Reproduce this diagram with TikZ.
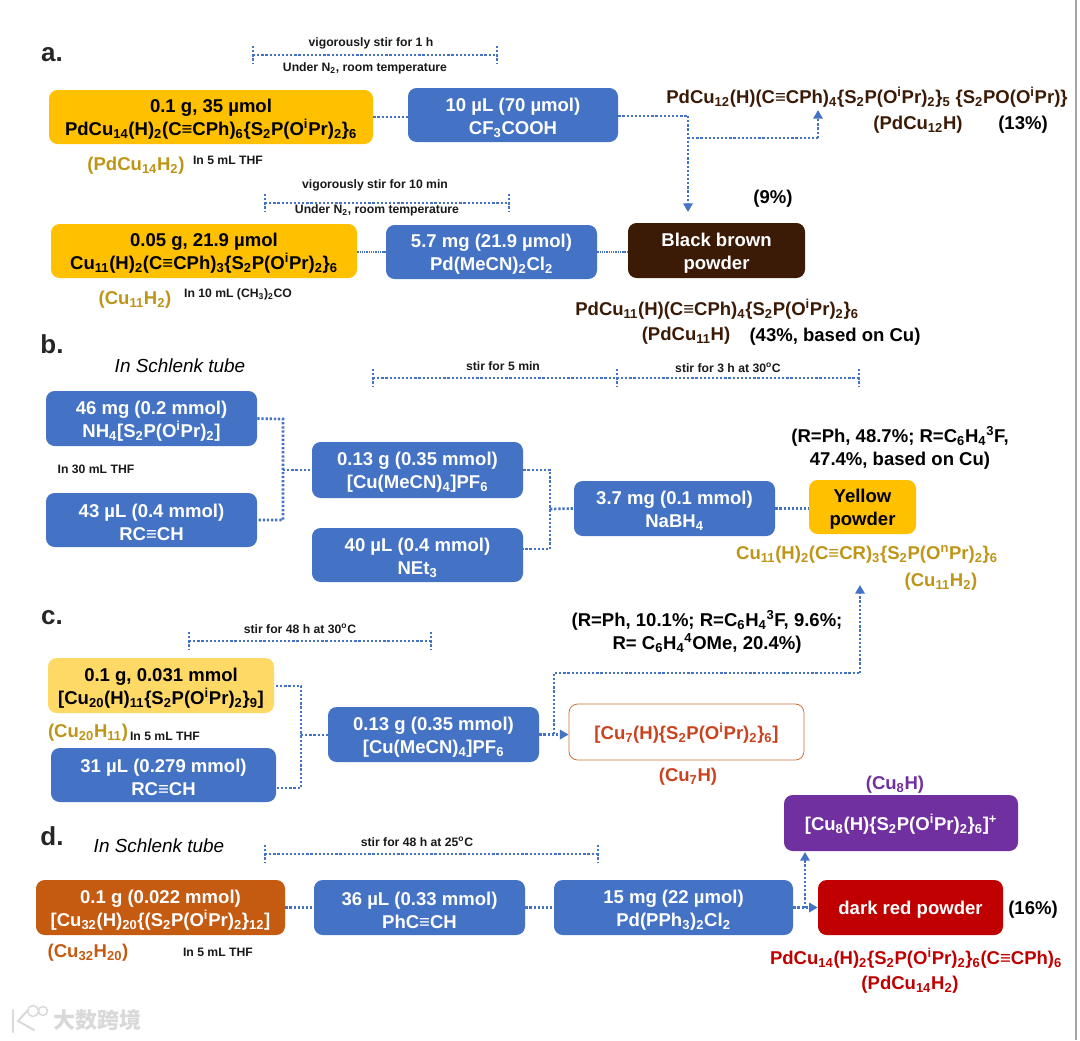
\documentclass[tikz,border=0pt]{standalone}
\usepackage{fontspec}
\setmainfont{Liberation Sans}
\newfontfamily\cjkwm{Noto Sans CJK SC}
\usetikzlibrary{arrows.meta,calc}
\definecolor{bblue}{HTML}{4472C4}
\definecolor{byellow}{HTML}{FFC000}
\definecolor{lyellow}{HTML}{FFD966}
\definecolor{gold}{HTML}{BF9518}
\definecolor{dbrown}{HTML}{3B1B06}
\definecolor{oran}{HTML}{C55A11}
\definecolor{cured}{HTML}{C9431E}
\definecolor{purp}{HTML}{7030A0}
\definecolor{dred}{HTML}{C00000}
\newcommand\sbs[1]{\textsubscript{#1}}
\newcommand\sps[1]{\textsuperscript{#1}}
\newcommand\Oi{O\sps{i}Pr}
\newcommand\ctb{≡}
\newcommand\bigf{\fontsize{13.9}{17.25}\selectfont\bfseries}
\newcommand\smf{\fontsize{9.15}{11}\selectfont\bfseries}
\newcommand\bx[7]{\node[#5,minimum width={(#3-#1)*0.75pt},minimum height={(#4-#2)*0.75pt}] (#6) at ({(#1+#3)/2},{(#2+#4)/2}) {\rule{0pt}{14pt}#7};}
\tikzset{
  x=0.75pt,y=-0.75pt,
  rbox/.style={rounded corners=6.5pt,inner sep=0pt,align=center,font=\bigf,text=white},
  blue/.style={rbox,fill=bblue},
  yel/.style={rbox,fill=byellow,text=black},
  lab/.style={inner sep=0pt,align=center,font=\bigf,yshift=-1pt},
  sm/.style={inner sep=0pt,align=center,font=\smf,text=black!90,yshift=-1.2pt},
  heading/.style={inner sep=0pt,font=\fontsize{19.5}{21}\selectfont\bfseries,text=black!85},
  ital/.style={inner sep=0pt,font=\fontsize{14.2}{16}\selectfont\itshape},
  dots/.style={draw=bblue,line width=2pt,dash pattern=on 1.7pt off 1.4pt},
  thindots/.style={draw=bblue,line width=0.8pt,dash pattern=on 1pt off 0.7pt},
  arr/.style={dots,-{Triangle[length=6.5pt,width=7pt,fill=bblue]}},
}
\begin{document}
\begin{tikzpicture}
\useasboundingbox (0,0) rectangle (1080,1040);
\fill[white] (0,0) rectangle (1080,1040);
\coordinate (edgeT) at (1076,0);
\coordinate (edgeB) at (1076,1040);
\draw[black!35,line width=0.8pt] (edgeT) -- (edgeB);

% panel a
\node[heading] (la) at (52,55) {a.};
\coordinate (b1l) at (253,55); \coordinate (b1r) at (497,55);
\coordinate (b1lt) at (253,46); \coordinate (b1lb) at (253,64);
\coordinate (b1rt) at (497,46); \coordinate (b1rb) at (497,64);
\draw[dots] (b1lt) -- (b1lb); \draw[dots] (b1rt) -- (b1rb); \draw[dots] (b1l) -- (b1r);
\node[sm] (t1) at (371,42) {vigorously stir for 1 h};
\node[sm] (t2) at (365,67) {Under N\sbs{2}, room temperature};
\bx{49}{90}{373}{144}{yel}{a1}{0.1 g, 35 µmol\\PdCu\sbs{14}(H)\sbs{2}(C\ctb CPh)\sbs{6}\{S\sbs{2}P(\Oi)\sbs{2}\}\sbs{6}}
\bx{408}{88}{618}{142}{blue}{a2}{10 µL (70 µmol)\\CF\sbs{3}COOH}
\draw[dots] (a1.east) -- (a1.east -| a2.west);
\node[lab,text=gold] (a1l) at (136,164) {(PdCu\sbs{14}H\sbs{2})};
\node[sm] (a1s) at (228,159) {In 5 mL THF};
\node[lab,text=dbrown] (p1) at (867,96) {PdCu\sbs{12}(H)(C\ctb CPh)\sbs{4}\{S\sbs{2}P(\Oi)\sbs{2}\}\sbs{5} \{S\sbs{2}PO(\Oi)\}};
\node[lab,text=dbrown] (p1l) at (918,123) {(PdCu\sbs{12}H)};
\node[lab,text=black] (p1y) at (1023,123) {(13\%)};
\coordinate (j1) at (688,116);
\coordinate (j2) at (688,138);
\coordinate (j3) at (818,138);
\coordinate (a1up) at (818,110);
\node[lab,text=black] (y9) at (773,197) {(9\%)};
\bx{628}{223}{805}{278}{rbox,fill=dbrown}{a5}{Black brown\\powder}
\coordinate (a5top) at (688,212);
\draw[dots] (a2.east |- j1) -- (j1);
\draw[arr] (j1) -- (a5top);
\draw[dots] (j2) -- (j3);
\draw[arr] (j3) -- (a1up);
\coordinate (b2l) at (265,203); \coordinate (b2r) at (509,203);
\coordinate (b2lt) at (265,194); \coordinate (b2lb) at (265,212);
\coordinate (b2rt) at (509,194); \coordinate (b2rb) at (509,212);
\draw[dots] (b2lt) -- (b2lb); \draw[dots] (b2rt) -- (b2rb); \draw[dots] (b2l) -- (b2r);
\node[sm] (t3) at (375,184) {vigorously stir for 10 min};
\node[sm] (t4) at (377,209) {Under N\sbs{2}, room temperature};
\bx{51}{224}{357}{278}{yel}{a3}{0.05 g, 21.9 µmol\\Cu\sbs{11}(H)\sbs{2}(C\ctb CPh)\sbs{3}\{S\sbs{2}P(\Oi)\sbs{2}\}\sbs{6}}
\bx{386}{225}{597}{279}{blue}{a4}{5.7 mg (21.9 µmol)\\Pd(MeCN)\sbs{2}Cl\sbs{2}}
\draw[thindots] (a4.west -| a3.east) -- (a4.west);
\draw[thindots] (a4.east) -- (a4.east -| a5.west);
\node[lab,text=gold] (a3l) at (135,298) {(Cu\sbs{11}H\sbs{2})};
\node[sm] (a3s) at (238,293) {In 10 mL (CH\sbs{3})\sbs{2}CO};
\node[lab,text=dbrown] (p2) at (717,308) {PdCu\sbs{11}(H)(C\ctb CPh)\sbs{4}\{S\sbs{2}P(\Oi)\sbs{2}\}\sbs{6}};
\node[lab,text=dbrown] (p2l) at (686,334) {(PdCu\sbs{11}H)};
\node[lab,text=black] (p2y) at (835,335) {(43\%, based on Cu)};

% panel b
\node[heading] (lb) at (52,344) {b.};
\node[ital] (sch1) at (180,366) {In Schlenk tube};
\coordinate (b3l) at (373,378); \coordinate (b3m) at (617,378); \coordinate (b3r) at (859,378);
\coordinate (b3lt) at (373,369); \coordinate (b3lb) at (373,387);
\coordinate (b3mt) at (617,369); \coordinate (b3mb) at (617,387);
\coordinate (b3rt) at (859,369); \coordinate (b3rb) at (859,387);
\draw[dots] (b3lt) -- (b3lb); \draw[dots] (b3mt) -- (b3mb); \draw[dots] (b3rt) -- (b3rb); \draw[dots] (b3l) -- (b3r);
\node[sm] (t5) at (503,365) {stir for 5 min};
\node[sm] (t6) at (728,366) {stir for 3 h at 30\sps{o}C};
\bx{46}{391}{257}{446}{blue}{b1}{46 mg (0.2 mmol)\\NH\sbs{4}[S\sbs{2}P(\Oi)\sbs{2}]}
\node[sm] (b1s) at (96,468) {In 30 mL THF};
\bx{46}{493}{257}{547}{blue}{b2}{43 µL (0.4 mmol)\\RC\ctb CH}
\bx{312}{442}{523}{498}{blue}{b3}{0.13 g (0.35 mmol)\\{}[Cu(MeCN)\sbs{4}]PF\sbs{6}}
\bx{312}{528}{523}{582}{blue}{b4}{40 µL (0.4 mmol)\\NEt\sbs{3}}
\bx{574}{481}{775}{536}{blue}{b5}{3.7 mg (0.1 mmol)\\NaBH\sbs{4}}
\bx{809}{480}{916}{534}{yel}{b6}{Yellow\\powder}
\coordinate (bj1) at (283,419); \coordinate (bj2) at (283,520); \coordinate (bj3) at (283,470);
\draw[dots] (b1.east) -- (bj1) -- (bj2) -- (b2.east);
\draw[dots] (bj3) -- (b3.west);
\coordinate (bj4) at (550,470); \coordinate (bj5) at (550,549); \coordinate (bj6) at (550,509);
\draw[dots] (b3.east) -- (bj4) -- (bj5) -- (bj5 -| b4.east);
\draw[dots] (bj6) -- (b5.west);
\draw[dots] (b5.east) -- (b5.east -| b6.west);
\node[lab,text=black] (b6y) at (900,447) {(R=Ph, 48.7\%; R=C\sbs{6}H\sbs{4}\sps{3}F,\\47.4\%, based on Cu)};
\node[lab,text=gold] (p3) at (867,553) {Cu\sbs{11}(H)\sbs{2}(C\ctb CR)\sbs{3}\{S\sbs{2}P(O\sps{n}Pr)\sbs{2}\}\sbs{6}};
\node[lab,text=gold] (p3l) at (941,580) {(Cu\sbs{11}H\sbs{2})};

% panel c
\node[heading] (lc) at (52,618) {c.};
\coordinate (b4l) at (189,641); \coordinate (b4r) at (431,641);
\coordinate (b4lt) at (189,632); \coordinate (b4lb) at (189,650);
\coordinate (b4rt) at (431,632); \coordinate (b4rb) at (431,650);
\draw[dots] (b4lt) -- (b4lb); \draw[dots] (b4rt) -- (b4rb); \draw[dots] (b4l) -- (b4r);
\node[sm] (t7) at (300,627) {stir for 48 h at 30\sps{o}C};
\bx{48}{658}{274}{713}{rbox,fill=lyellow,text=black}{c1}{0.1 g, 0.031 mmol\\{}[Cu\sbs{20}(H)\sbs{11}\{S\sbs{2}P(\Oi)\sbs{2}\}\sbs{9}]}
\node[lab,text=gold] (c1l) at (88,731) {(Cu\sbs{20}H\sbs{11})};
\node[sm] (c1s) at (165,735) {In 5 mL THF};
\bx{51}{748}{276}{802}{blue}{c2}{31 µL (0.279 mmol)\\RC\ctb CH}
\bx{328}{707}{539}{762}{blue}{c3}{0.13 g (0.35 mmol)\\{}[Cu(MeCN)\sbs{4}]PF\sbs{6}}
\bx{569}{704}{804}{760}{rbox,draw=oran!85!white,line width=0.6pt,fill=white,text=cured}{c4}{[Cu\sbs{7}(H)\{S\sbs{2}P(\Oi)\sbs{2}\}\sbs{6}]}
\coordinate (cj1) at (301,686); \coordinate (cj2) at (301,788); \coordinate (cj3) at (301,735);
\coordinate (c1e) at (276,686); \coordinate (c2e) at (276,788);
\draw[dots] (c1e) -- (cj1) -- (cj2) -- (c2e);
\draw[dots] (cj3) -- (cj3 -| c3.west);
\coordinate (cj4) at (554,673); \coordinate (cj5) at (860,673); \coordinate (cup) at (860,585);
\coordinate (cj6) at (554,734);
\draw[arr] (c3.east) -- (c3.east -| c4.west);
\draw[dots] (cj6) -- (cj4) -- (cj5);
\draw[arr] (cj5) -- (cup);
\node[lab,text=black] (cy) at (707,631) {(R=Ph, 10.1\%; R=C\sbs{6}H\sbs{4}\sps{3}F, 9.6\%;\\R= C\sbs{6}H\sbs{4}\sps{4}OMe, 20.4\%)};
\node[lab,text=cured] (c4l) at (688,775) {(Cu\sbs{7}H)};

% panel d
\node[heading] (ld) at (52,836) {d.};
\node[ital] (sch2) at (159,846) {In Schlenk tube};
\coordinate (b5l) at (265,854); \coordinate (b5r) at (598,854);
\coordinate (b5lt) at (265,845); \coordinate (b5lb) at (265,863);
\coordinate (b5rt) at (598,845); \coordinate (b5rb) at (598,863);
\draw[dots] (b5lt) -- (b5lb); \draw[dots] (b5rt) -- (b5rb); \draw[dots] (b5l) -- (b5r);
\node[sm] (t8) at (417,840) {stir for 48 h at 25\sps{o}C};
\bx{36}{880}{285}{935}{rbox,fill=oran}{d1}{0.1 g (0.022 mmol)\\{}[Cu\sbs{32}(H)\sbs{20}\{(S\sbs{2}P(\Oi)\sbs{2}\}\sbs{12}]}
\bx{314}{880}{525}{935}{blue}{d2}{36 µL (0.33 mmol)\\PhC\ctb CH}
\bx{554}{880}{793}{935}{blue}{d3}{15 mg (22 µmol)\\Pd(PPh\sbs{3})\sbs{2}Cl\sbs{2}}
\bx{818}{880}{1003}{935}{rbox,fill=dred}{d4}{dark red powder}
\bx{784}{795}{1018}{851}{rbox,fill=purp}{d5}{[Cu\sbs{8}(H)\{S\sbs{2}P(\Oi)\sbs{2}\}\sbs{6}]\sps{+}}
\draw[dots] (d1.east) -- (d2.west);
\draw[dots] (d2.east) -- (d3.west);
\draw[arr] (d3.east) -- (d4.west);
\coordinate (dj) at (805,908); \coordinate (dup) at (805,852);
\draw[arr] (dj) -- (dup);
\node[lab,text=purp] (d5l) at (895,783) {(Cu\sbs{8}H)};
\node[lab,text=black] (d4y) at (1033,908) {(16\%)};
\node[lab,text=dred] (p4) at (916,957) {PdCu\sbs{14}(H)\sbs{2}\{S\sbs{2}P(\Oi)\sbs{2}\}\sbs{6}(C\ctb CPh)\sbs{6}};
\node[lab,text=dred] (p4l) at (910,983) {(PdCu\sbs{14}H\sbs{2})};
\node[lab,text=oran] (d1l) at (88,951) {(Cu\sbs{32}H\sbs{20})};
\node[sm] (d1s) at (218,951) {In 5 mL THF};

% watermark
\node[inner sep=0pt,text=black!15] (wm) at (97,1020) {\cjkwm\fontsize{16.5}{18}\selectfont\bfseries 大数跨境};
\coordinate (wk1) at (13,1010); \coordinate (wk2) at (13,1032);
\coordinate (wk3) at (28,1010); \coordinate (wk4) at (18,1021); \coordinate (wk5) at (34,1030);
\draw[black!15,line width=1.5pt,line cap=round] (wk1) -- (wk2);
\draw[black!15,line width=1.5pt,line cap=round] (wk3) -- (wk4) -- (wk5);
\draw[black!15,line width=1.1pt] (33,1011) circle[radius=5.5] (43,1011) circle[radius=4.5];
\end{tikzpicture}
\end{document}
